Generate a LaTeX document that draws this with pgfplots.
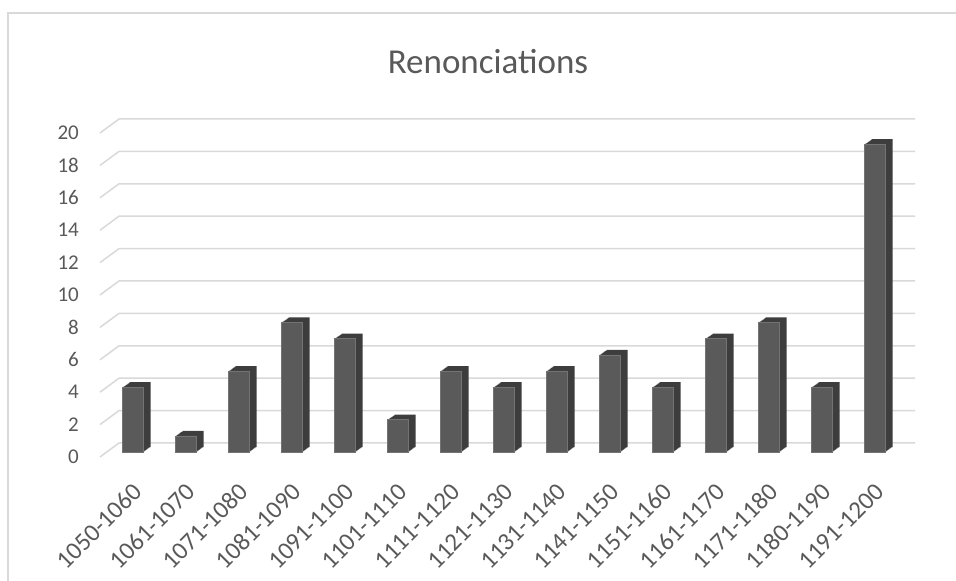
\documentclass[border=0pt]{standalone}
\usepackage{fontspec}
\setmainfont{Carlito}
\usepackage{pgfplots}
\usepackage{pgfplotstable}
\pgfplotsset{compat=1.18}
\definecolor{txt}{HTML}{595959}
\definecolor{gridc}{HTML}{D9D9D9}
\definecolor{barfront}{HTML}{5A5A5A}
\definecolor{barside}{HTML}{3D3D3D}
\pgfplotstableread{
x y
0 4
1 1
2 5
3 8
4 7
5 2
6 5
7 4
8 5
9 6
10 4
11 7
12 8
13 4
14 19
}\data
\begin{document}
\begin{tikzpicture}[x=1pt,y=1pt]
\useasboundingbox (0,0) rectangle (956,581);
\draw[gridc, line width=1.3pt] (8,-100) -- (8,568) -- (1000,568);
\node[txt, font=\fontsize{35}{40}\selectfont] at (488,519) {Renonciations};
\begin{axis}[
  at={(106.5pt,129pt)}, anchor=south west,
  scale only axis, width=795pt, height=324pt,
  xmin=-0.5, xmax=14.5, ymin=0, ymax=20,
  clip=false,
  axis line style={draw=none},
  major tick length=0pt,
  xtick={0,...,14},
  xticklabels={1050-1060,1061-1070,1071-1080,1081-1090,1091-1100,1101-1110,1111-1120,1121-1130,1131-1140,1141-1150,1151-1160,1161-1170,1171-1180,1180-1190,1191-1200},
  ytick={0,2,...,20},
  /pgf/number format/assume math mode=true,
  yticklabel style={font=\fontsize{21}{25}\selectfont, text=txt, anchor=east, inner sep=0pt, xshift=-27.5pt, yshift=-5pt},
  xticklabel style={font=\fontsize{25}{29}\selectfont, text=txt, inner sep=0pt, xshift=4.6pt, yshift=-35.6pt, rotate=45, anchor=east},
]
\pgfplotsinvokeforeach{0,2,...,20}{
  \draw[gridc, line width=1.5pt] ([yshift=-5pt]axis cs:-0.623,#1) -- ([yshift=9pt]axis cs:-0.264,#1) -- ([yshift=9pt]axis cs:14.755,#1);
}
\pgfplotsinvokeforeach{1,...,7}{
  \addplot[ybar, bar width=21pt, bar shift=#1pt, yshift=#1*0.71pt, fill=barside, draw=none] table[x=x,y=y]{\data};
}
\addplot[ybar, bar width=21pt, bar shift=0pt, fill=barfront, draw=barfront!85!white, line width=0.5pt] table[x=x,y=y]{\data};
\end{axis}
\end{tikzpicture}
\end{document}
